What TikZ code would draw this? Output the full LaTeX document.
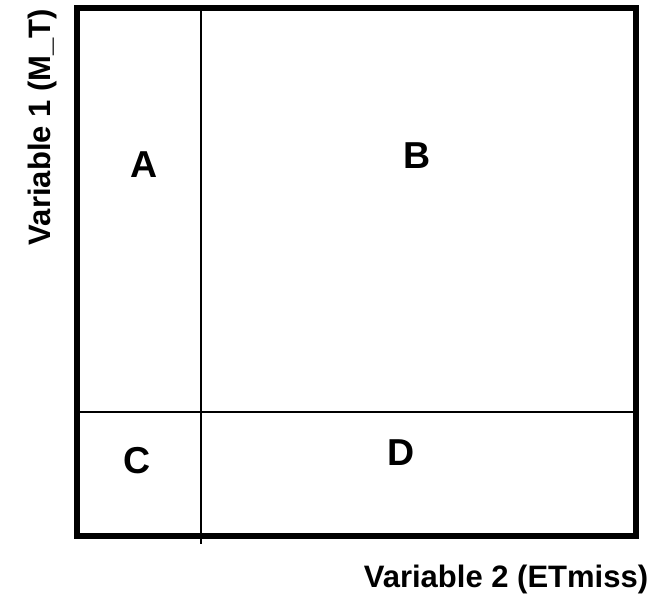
\documentclass[tikz,border=0pt]{standalone}
\usepackage{fontspec}
\setmainfont{Liberation Sans}
\begin{document}
\begin{tikzpicture}[x=1pt,y=-1pt,
  region/.style={inner sep=0pt,font=\fontsize{37.5}{37.5}\selectfont\bfseries},
  axislabel/.style={inner sep=0pt,font=\fontsize{31}{31}\selectfont\bfseries},
  thinline/.style={line width=2.5pt},
  frame/.style={line width=6pt}]
\useasboundingbox (0,0) rectangle (654,605);
\coordinate (tl) at (76.5,8);
\coordinate (br) at (636,536);
\coordinate (vtop) at (201,8);
\coordinate (vbot) at (201,544);
\coordinate (hl) at (76.5,412);
\coordinate (hr) at (636,412);
\draw[thinline] (vtop) -- (vbot);
\draw[thinline] (hl) -- (hr);
\draw[frame] (tl) rectangle (br);
\node[region] (A) at (144,164.5) {A};
\node[region] (B) at (417,156) {B};
\node[region] (C) at (137.5,461) {C};
\node[region] (D) at (401.5,453) {D};
\node[axislabel,anchor=base] (xl) at (506,587) {Variable 2 (ETmiss)};
\node[axislabel,anchor=base,rotate=90] (yl) at (50,127) {Variable 1 (M\_T)};
\end{tikzpicture}
\end{document}
